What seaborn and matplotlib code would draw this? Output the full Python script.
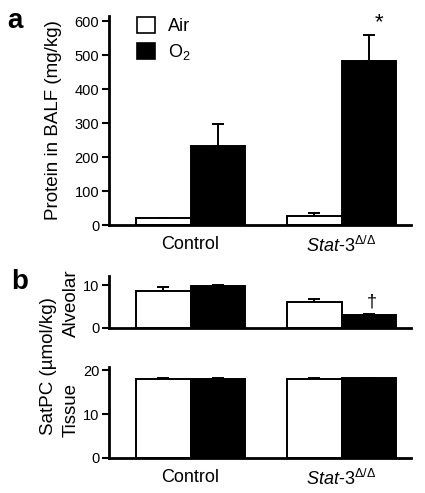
import matplotlib
matplotlib.use("Agg")
import matplotlib.pyplot as plt
import seaborn as sns
import pandas as pd
from matplotlib.patches import Patch

sns.set_theme(style="ticks")
plt.rcParams['font.family'] = ['Liberation Sans', 'DejaVu Sans']
plt.rcParams['mathtext.fontset'] = 'custom'
plt.rcParams['mathtext.rm'] = 'Liberation Sans'
plt.rcParams['mathtext.it'] = 'Liberation Sans:italic'
plt.rcParams['mathtext.bf'] = 'Liberation Sans:bold'
for key in ['text.color', 'axes.labelcolor', 'xtick.color', 'ytick.color',
            'axes.edgecolor']:
    plt.rcParams[key] = 'black'

groups = ["Control", "Stat-3"]
group_labels = ["Control", r"$\mathit{Stat}$-$\mathit{3}^{\mathit{\Delta/\Delta}}$"]
conditions = ["Air", "O2"]
condition_labels = ["Air", r"O$_2$"]

protein_air = [20, 26]
protein_o2 = [232, 483]
protein_air_err = [2, 10]
protein_o2_err = [65, 76]

alveolar_air = [8.6, 6.0]
alveolar_o2 = [9.8, 2.95]
alveolar_air_err = [0.9, 0.7]
alveolar_o2_err = [0.2, 0.25]

tissue_air = [18.0, 17.9]
tissue_o2 = [18.0, 18.1]
tissue_air_err = [0.15, 0.2]
tissue_o2_err = [0.15, 0.2]

colors = ["white", "black"]


def make_df(air, o2):
    rows = []
    for g, a, o in zip(groups, air, o2):
        rows.append({"group": g, "condition": "Air", "value": a})
        rows.append({"group": g, "condition": "O2", "value": o})
    return pd.DataFrame(rows)


def panel(ax, air, o2, air_err, o2_err, ylim, yticks):
    df = make_df(air, o2)
    sns.barplot(data=df, x="group", y="value", hue="condition", order=groups,
                hue_order=conditions, palette=colors, edgecolor="black",
                linewidth=1.4, width=0.72, errorbar=None, saturation=1,
                legend=False, ax=ax)
    bars = [p for p in ax.patches]
    errs = list(air_err) + list(o2_err)
    vals = list(air) + list(o2)
    for p, v, e in zip(bars, vals, errs):
        cx = p.get_x() + p.get_width() / 2
        ax.errorbar([cx], [v], yerr=[[0], [e]], fmt="none", ecolor="black",
                    elinewidth=1.4, capsize=4, capthick=1.4, zorder=0.5)
    ax.set_xlim(-0.54, 1.46)
    ax.set_ylim(*ylim)
    ax.set_yticks(yticks)
    ax.set_xlabel("")
    ax.set_ylabel("")
    sns.despine(ax=ax)
    for s in ["left", "bottom"]:
        ax.spines[s].set_linewidth(2.0)
        ax.spines[s].set_color("black")
    ax.tick_params(axis="y", direction="out", length=5, width=1.5,
                   labelsize=10.5, colors="black", pad=2)
    ax.tick_params(axis="x", length=0, labelsize=13, pad=8, colors="black")
    return bars


fig = plt.figure(figsize=(4.25, 4.93), dpi=100)
axa = fig.add_axes([0.2565, 0.5436, 0.7105, 0.4239])
axb1 = fig.add_axes([0.2565, 0.3347, 0.7105, 0.1055])
axb2 = fig.add_axes([0.2565, 0.0710, 0.7105, 0.1846])

bars_a = panel(axa, protein_air, protein_o2, protein_air_err, protein_o2_err,
               (0, 615), [0, 100, 200, 300, 400, 500, 600])
axa.set_xticks([0, 1])
axa.set_xticklabels(group_labels)
axa.set_ylabel("Protein in BALF (mg/kg)", fontsize=13.5, labelpad=9)
axa.text(1.0 + 0.25, protein_o2[1] + protein_o2_err[1] + 5, "*",
         ha="center", va="bottom", fontsize=16)

handles = [Patch(facecolor=c, edgecolor="black", linewidth=1.2) for c in colors]
axa.legend(handles, condition_labels, loc="upper left",
           bbox_to_anchor=(0.07, 1.03), frameon=False, fontsize=13,
           handlelength=1.0, handleheight=1.0, handletextpad=0.7,
           labelspacing=0.4, borderaxespad=0)

panel(axb1, alveolar_air, alveolar_o2, alveolar_air_err, alveolar_o2_err,
      (0, 12.1), [0, 10])
axb1.set_xticks([0, 1])
axb1.set_xticklabels([])
axb1.text(1.0 + 0.2, alveolar_o2[1] + alveolar_o2_err[1] + 0.9, "\u2020",
          ha="center", va="bottom", fontsize=13)

panel(axb2, tissue_air, tissue_o2, tissue_air_err, tissue_o2_err,
      (0, 20.7), [0, 10, 20])
axb2.set_xticks([0, 1])
axb2.set_xticklabels(group_labels)

fig.text(0.167, 0.385, "Alveolar", rotation=90, ha="center", va="center",
         fontsize=13.5)
fig.text(0.167, 0.168, "Tissue", rotation=90, ha="center", va="center",
         fontsize=13.5)
fig.text(0.113, 0.258, "SatPC (\u00b5mol/kg)", rotation=90, ha="center",
         va="center", fontsize=13.5)

fig.text(0.018, 0.957, "a", fontsize=20, fontweight="bold", ha="left",
         va="center")
fig.text(0.026, 0.428, "b", fontsize=20, fontweight="bold", ha="left",
         va="center")

fig.savefig("out.png", dpi=100)
